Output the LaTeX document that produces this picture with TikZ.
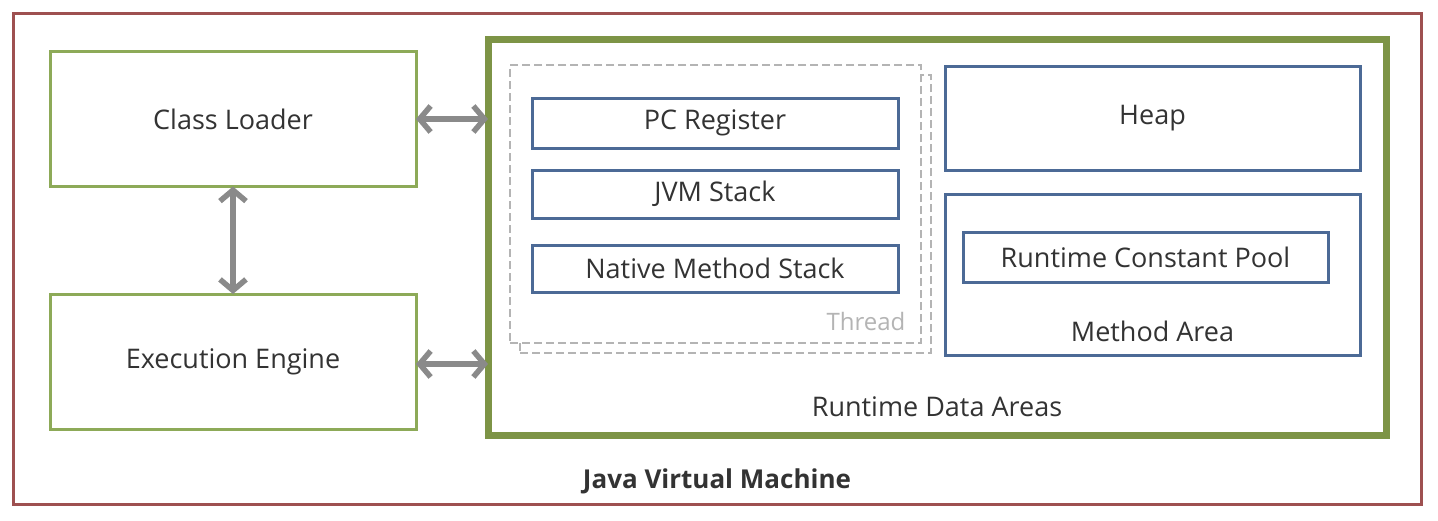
\documentclass[tikz,border=0pt]{standalone}
\usepackage{fontspec}
\setmainfont{Open Sans}
\usetikzlibrary{arrows.meta}
\definecolor{jvmred}{HTML}{9E5050}
\definecolor{rdagreen}{HTML}{7D9446}
\definecolor{boxgreen}{HTML}{8DAA58}
\definecolor{boxblue}{HTML}{4C6A96}
\definecolor{arrowgray}{HTML}{8A8A8A}
\definecolor{dashgray}{HTML}{B4B4B4}
\definecolor{txt}{HTML}{333333}
\tikzset{
  every node/.style={inner sep=0pt, outer sep=0pt, text=txt, font=\fontsize{27}{32}\selectfont},
  greenbox/.style={draw=boxgreen, line width=3pt, fill=white, rectangle},
  bluebox/.style={draw=boxblue, line width=3pt, fill=white, rectangle},
  threadbox/.style={draw=dashgray, line width=2.5pt, dash pattern=on 8pt off 4pt, rectangle},
  link/.style={draw=arrowgray, line width=5.5pt, {Straight Barb[length=11pt,width=26pt,line width=5.5pt]}-{Straight Barb[length=11pt,width=26pt,line width=5.5pt]}},
}
\begin{document}
\begin{tikzpicture}[x=1pt,y=-1pt]
\useasboundingbox (0,0) rectangle (1438,520);
\fill[white] (0,0) rectangle (1438,520);
% outer JVM frame
\node[draw=jvmred, line width=3pt, minimum width=1408pt, minimum height=491pt] (jvm) at (717,258.5) {};
\node[font=\fontsize{26}{30}\selectfont\bfseries] (jvmlabel) at (717,481) {Java Virtual Machine};
% left boxes
\node[greenbox, minimum width=366pt, minimum height=135pt] (cl) at (233,119) {Class Loader};
\node[greenbox, minimum width=366pt, minimum height=135pt] (ee) at (233,361.5) {Execution Engine};
% runtime data areas
\node[draw=rdagreen, line width=7pt, minimum width=898pt, minimum height=396pt] (rda) at (937,237) {};
\node (rdalabel) at (937,407) {Runtime Data Areas};
% thread
\node[threadbox, minimum width=411pt, minimum height=278pt] (threadshadow) at (725.5,214) {};
\node[threadbox, fill=white, minimum width=411pt, minimum height=278pt] (thread) at (715.5,204) {};
\node[text=dashgray, font=\fontsize{24}{28}\selectfont] (threadlabel) at (866,321) {Thread};
\node[bluebox, minimum width=366pt, minimum height=50pt] (pc) at (715,123) {PC Register};
\node[bluebox, minimum width=366pt, minimum height=48pt] (jvms) at (715,194) {JVM Stack};
\node[bluebox, minimum width=366pt, minimum height=47pt] (nms) at (715,268.5) {Native Method Stack};
% heap and method area
\node[bluebox, minimum width=415pt, minimum height=104pt] (heap) at (1152.5,118) {Heap};
\node[bluebox, minimum width=415pt, minimum height=161pt] (ma) at (1152.5,274.5) {};
\node (malabel) at (1152.5,331) {Method Area};
\node[bluebox, minimum width=365pt, minimum height=50pt] (rcp) at (1145.5,257) {Runtime Constant Pool};
% connectors
\draw[link] (cl.east) -- (cl.east -| rda.west);
\draw[link] (ee.east |- 0,364) coordinate (eeport) -- (eeport -| rda.west);
\draw[link] (cl.south) -- (ee.north);
\end{tikzpicture}
\end{document}
